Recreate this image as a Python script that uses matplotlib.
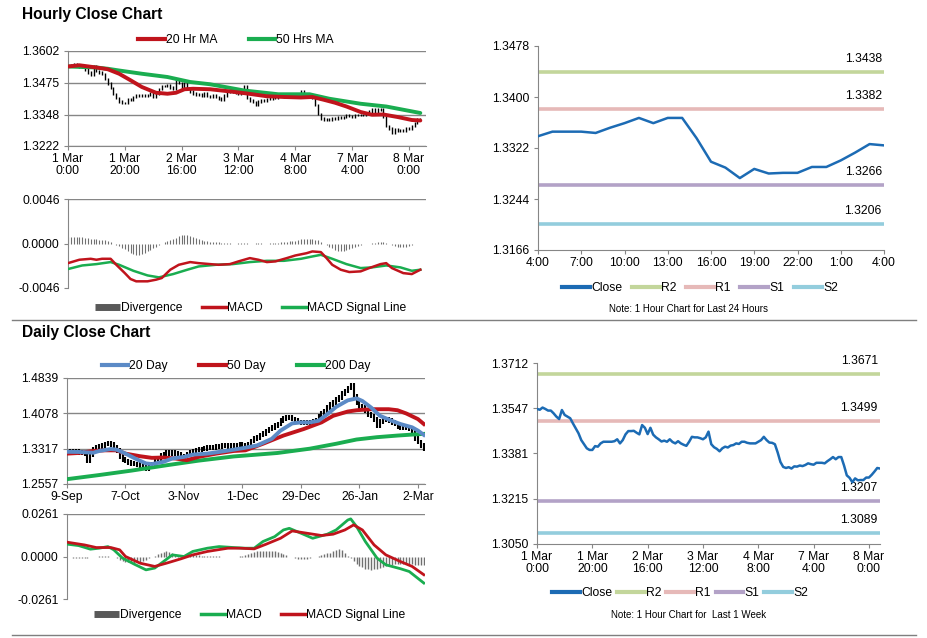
import numpy as np
import matplotlib
matplotlib.use('Agg')
import matplotlib.pyplot as plt
from matplotlib.lines import Line2D

plt.rcParams['font.family'] = ['Liberation Sans', 'DejaVu Sans']

# ---------------- hourly data (1 Mar 0:00 -> 8 Mar 4:00, trading hours) ----------------
hourly_close = [
    1.3544, 1.3541, 1.3549, 1.3544, 1.3538, 1.3538, 1.3528, 1.3516, 1.3507, 1.3540,
    1.3522, 1.3516, 1.3510, 1.3491, 1.3473, 1.3455, 1.3430, 1.3415, 1.3400, 1.3394,
    1.3394, 1.3408, 1.3406, 1.3418, 1.3424, 1.3424, 1.3424, 1.3424, 1.3426, 1.3433,
    1.3418, 1.3430, 1.3451, 1.3463, 1.3463, 1.3464, 1.3457, 1.3451, 1.3485, 1.3475,
    1.3452, 1.3475, 1.3450, 1.3440, 1.3433, 1.3425, 1.3428, 1.3424, 1.3433, 1.3423,
    1.3418, 1.3426, 1.3418, 1.3413, 1.3409, 1.3424, 1.3442, 1.3440, 1.3440, 1.3437,
    1.3433, 1.3440, 1.3461, 1.3415, 1.3404, 1.3398, 1.3389, 1.3400, 1.3406, 1.3403,
    1.3410, 1.3412, 1.3418, 1.3416, 1.3424, 1.3424, 1.3420, 1.3418, 1.3418, 1.3418,
    1.3424, 1.3430, 1.3442, 1.3430, 1.3421, 1.3420, 1.3415, 1.3385, 1.3350, 1.3332,
    1.3328, 1.3331, 1.3326, 1.3334, 1.3333, 1.3337, 1.3335, 1.3339, 1.3345, 1.3342,
    1.3340, 1.3347, 1.3347, 1.3347, 1.3345, 1.3353, 1.3360, 1.3368, 1.3360, 1.3368,
    1.3368, 1.3337, 1.3301, 1.3292, 1.3276, 1.3290, 1.3283, 1.3284, 1.3284, 1.3293,
    1.3293, 1.3303, 1.3315, 1.3328, 1.3326,
]
hourly_ticks = ['1 Mar\n0:00', '1 Mar\n20:00', '2 Mar\n16:00', '3 Mar\n12:00',
                '4 Mar\n8:00', '7 Mar\n4:00', '8 Mar\n0:00']

ma20_hr_idx = [0, 4, 10, 14, 18, 22, 26, 31, 35, 38, 41, 44, 50, 58, 63, 70, 76, 82,
               86, 90, 94, 98, 103, 107, 111, 116, 121, 124]
ma20_hr = [1.3540, 1.3545, 1.3536, 1.3529, 1.3511, 1.3485, 1.3458, 1.3435, 1.3431,
           1.3435, 1.3449, 1.3451, 1.3449, 1.3439, 1.3432, 1.3421, 1.3418, 1.3416,
           1.3418, 1.3407, 1.3395, 1.3380, 1.3358, 1.3347, 1.3348, 1.3338, 1.3326, 1.3324]
ma50_hr_idx = [0, 10, 14, 18, 26, 35, 43, 50, 62, 74, 85, 92, 103, 112, 124]
ma50_hr = [1.3540, 1.3536, 1.3531, 1.3524, 1.3511, 1.3498, 1.3478, 1.3469, 1.3444,
           1.3429, 1.3429, 1.3411, 1.3391, 1.3380, 1.3354]

macd_hr_idx = [0, 4, 8, 10, 12, 15, 17, 20, 22, 24, 28, 31, 33, 36, 39, 43, 46, 50, 53, 57,
               60, 64, 67, 70, 73, 77, 80, 84, 86, 89, 91, 93, 96, 99, 103, 106, 110, 112,
               114, 118, 121, 124]
macd_hr = [-0.00203, -0.00168, -0.00158, -0.00168, -0.00158, -0.00158, -0.00220, -0.00306,
           -0.00367, -0.00391, -0.00391, -0.00374, -0.00357, -0.00271, -0.00220, -0.00192,
           -0.00203, -0.00213, -0.00220, -0.00213, -0.00185, -0.00151, -0.00168, -0.00192,
           -0.00185, -0.00151, -0.00124, -0.00100, -0.00082, -0.00089, -0.00151, -0.00220,
           -0.00271, -0.00295, -0.00288, -0.00254, -0.00213, -0.00203, -0.00254, -0.00306,
           -0.00316, -0.00271]
signal_hr_idx = [0, 5, 10, 15, 18, 23, 28, 32, 37, 42, 46, 52, 58, 64, 70, 76, 82, 86, 89,
                 93, 98, 103, 107, 112, 117, 121, 124]
signal_hr = [-0.00264, -0.00227, -0.00213, -0.00192, -0.00220, -0.00282, -0.00330, -0.00350,
             -0.00316, -0.00271, -0.00237, -0.00220, -0.00213, -0.00192, -0.00179, -0.00179,
             -0.00158, -0.00134, -0.00117, -0.00158, -0.00213, -0.00254, -0.00247, -0.00227,
             -0.00247, -0.00282, -0.00271]
# divergence, in units of 1e-4
div_hr = [7, 7, 7, 7, 7, 7, 6, 6, 5, 5, 5, 4, 4, 4, 3, 2, 0, -2, -3, -5, -6, -8,
          -10, -11, -12, -12, -11, -10, -8, -7, -5, -4, -2, 0, 2, 3, 4, 5, 6,
          8, 9, 9, 9, 8, 7, 6, 5, 4, 3, 3, 2, 2, 2, 2,
          1, 1, 1, 1, 0, 0, 1, 1, 1, 1, 0, 0, 1, 1, 1, 0, 0, 1, 1, 1, 1, 2, 2, 2, 3, 3, 3,
          4, 5, 5, 5, 5, 5, 4, 4, 2, 0, -2, -4, -5, -7, -8, -8, -8, -7, -6, -5,
          -4, -3, -2, -1, 0, 0, 1, 1, 2, 2, 2, 1, 0, -2, -3, -4, -4, -4, -4, -3, -2,
          -1, 0, 0]

# last 24 hours (7 Mar 4:00 -> 8 Mar 4:00)
h24_ticks = ['4:00', '7:00', '10:00', '13:00', '16:00', '19:00', '22:00', '1:00', '4:00']
h24_levels = [1.3438, 1.3382, 1.3266, 1.3206]
week_levels = [1.3671, 1.3499, 1.3207, 1.3089]
level_names = ['R2', 'R1', 'S1', 'S2']

# ---------------- daily data (9 Sep -> Mar) ----------------
daily_close = [
    1.3250, 1.3265, 1.3250, 1.3270, 1.3240, 1.3225, 1.3200, 1.3060, 1.3190, 1.3300,
    1.3350, 1.3370, 1.3390, 1.3420, 1.3440, 1.3410, 1.3350, 1.3280, 1.3150, 1.3080,
    1.3050, 1.3020, 1.3000, 1.2990, 1.2970, 1.2950, 1.2910, 1.2890, 1.2930, 1.2990,
    1.3050, 1.3100, 1.3170, 1.3200, 1.3230, 1.3210, 1.3240, 1.3220, 1.3190, 1.3140,
    1.3160, 1.3190, 1.3240, 1.3270, 1.3290, 1.3300, 1.3310, 1.3320, 1.3340, 1.3350,
    1.3340, 1.3360, 1.3350, 1.3380, 1.3390, 1.3370, 1.3390, 1.3400, 1.3380, 1.3410,
    1.3400, 1.3400, 1.3410, 1.3480, 1.3530, 1.3565, 1.3610, 1.3650, 1.3700, 1.3740,
    1.3770, 1.3810, 1.3850, 1.3920, 1.3970, 1.3990, 1.3995, 1.3960, 1.3920, 1.3890,
    1.3880, 1.3885, 1.3875, 1.3885, 1.3900, 1.3920, 1.4020, 1.4080, 1.4130, 1.4200,
    1.4270, 1.4310, 1.4380, 1.4420, 1.4500, 1.4560, 1.4620, 1.4690, 1.4450, 1.4300,
    1.4230, 1.4200, 1.4130, 1.4060, 1.4020, 1.3950, 1.3820, 1.3900, 1.3940, 1.3950,
    1.3920, 1.3880, 1.3850, 1.3800, 1.3780, 1.3765, 1.3760, 1.3740, 1.3680, 1.3540,
    1.3460, 1.3380, 1.3310,
]
daily_ticks = ['9-Sep', '7-Oct', '3-Nov', '1-Dec', '29-Dec', '26-Jan', '2-Mar']

d20_idx = [0, 4, 9, 11, 15, 17, 20, 24, 27, 29, 33, 36, 40, 43, 48, 52, 57, 61, 65, 70,
           73, 77, 80, 83, 86, 89, 92, 96, 99, 101, 104, 107, 111, 114, 118, 120, 122]
d20 = [1.3250, 1.3247, 1.3230, 1.3268, 1.3310, 1.3296, 1.3211, 1.3084, 1.3000, 1.2986,
       1.3035, 1.3106, 1.3141, 1.3190, 1.3211, 1.3247, 1.3296, 1.3338, 1.3388, 1.3529,
       1.3706, 1.3862, 1.3883, 1.3883, 1.3919, 1.4060, 1.4216, 1.4358, 1.4400, 1.4344,
       1.4202, 1.4025, 1.3919, 1.3848, 1.3777, 1.3706, 1.3614]
d50_idx = [0, 4, 9, 13, 17, 20, 25, 29, 33, 37, 41, 45, 51, 57, 61, 67, 74, 81, 87, 91,
           96, 99, 104, 110, 113, 116, 120, 122]
d50 = [1.3211, 1.3225, 1.3268, 1.3282, 1.3282, 1.3211, 1.3155, 1.3120, 1.3127, 1.3106,
       1.3070, 1.3141, 1.3211, 1.3268, 1.3282, 1.3423, 1.3600, 1.3742, 1.3883, 1.4025,
       1.4117, 1.4145, 1.4167, 1.4167, 1.4145, 1.4075, 1.3954, 1.3848]
d200_idx = [0, 11, 22, 34, 45, 57, 61, 72, 83, 92, 99, 106, 113, 118, 122]
d200 = [1.2661, 1.2750, 1.2845, 1.2960, 1.3060, 1.3150, 1.3170, 1.3225, 1.3317, 1.3423,
        1.3515, 1.3565, 1.3600, 1.3621, 1.3636]

macd_d_idx = [0, 4, 8, 11, 14, 16, 19, 23, 27, 30, 33, 36, 40, 43, 48, 52, 57, 61, 64, 67,
              71, 74, 76, 80, 84, 89, 92, 96, 97, 99, 102, 106, 109, 114, 117, 122]
macd_d = [0.0076, 0.0067, 0.0045, 0.0051, 0.0061, 0.0041, -0.0010, -0.0047, -0.0082, -0.0071,
          -0.0031, 0.0010, 0.0000, 0.0031, 0.0051, 0.0061, 0.0055, 0.0051, 0.0051, 0.0092,
          0.0122, 0.0163, 0.0173, 0.0143, 0.0112, 0.0137, 0.0163, 0.0224, 0.0231, 0.0184,
          0.0092, -0.0010, -0.0051, -0.0075, -0.0092, -0.0163]
signal_d_idx = [0, 6, 10, 15, 18, 20, 25, 30, 34, 39, 43, 48, 55, 59, 64, 68, 73, 77, 82, 87,
                91, 95, 98, 101, 105, 109, 114, 118, 122]
signal_d = [0.0088, 0.0071, 0.0055, 0.0055, 0.0041, 0.0000, -0.0041, -0.0061, -0.0041, -0.0014,
            0.0010, 0.0031, 0.0051, 0.0051, 0.0047, 0.0075, 0.0112, 0.0157, 0.0143, 0.0129,
            0.0137, 0.0163, 0.0194, 0.0163, 0.0071, 0.0010, -0.0031, -0.0061, -0.0112]
# divergence, in units of 1e-3
div_d = [-0.3, -0.5, -0.8, -1.0, -1.0, -1.0, -1.0, -0.8, -0.5, -0.3,
         0, 0.3, 0.5, 0.5, 0.3, 0, -0.5, -1.2, -2.0, -2.8,
         -3.2, -3.6, -3.8, -3.8, -3.6, -3.2, -2.6, -2.0, -1.2, -0.4,
         0.6, 1.6, 2.4, 3.0, 3.2, 3.0, 2.4, 1.6, 1.0, 0.6,
         0.8, 1.0, 1.2, 1.2, 1.0, 0.8, 0.6, 0.4, 0.3, 0.2,
         0.2, 0.1, 0.1, 0, 0, 0, 0, 0, 0, 0.2,
         0.4, 0.8, 1.4, 2.2, 2.8, 3.2, 3.4, 3.6, 3.6, 3.6,
         3.6, 3.4, 3.0, 2.4, 1.6, 0.8, 0, -0.6, -1.0, -1.4,
         -1.6, -1.6, -1.4, -1.0, -0.6, -0.2, 0.2, 0.8, 1.4, 2.0,
         2.4, 3.4, 4.2, 4.6, 4.0, 2.4, 0.6, -1.2, -3.0, -4.4,
         -5.6, -6.6, -7.4, -7.8, -8.0, -7.8, -7.4, -6.8, -6.2, -5.8,
         -5.4, -5.0, -4.8, -4.6, -4.6, -4.6, -4.6, -4.6, -4.8, -5.0,
         -5.2, -5.4, -5.4]

# ---------------- styling ----------------
W, H = 928, 638
RED = '#c0141c'
GREEN = '#1aad50'
BLUE = '#1c6bb4'
LBLUE = '#5b8ac6'
GRAY = '#868686'
DIVC = '#707070'
LEVEL_COLORS = ['#c3d69b', '#e6b9b8', '#b3a2c7', '#93cddd']
FS = 8.7

fig = plt.figure(figsize=(W / 100, H / 100), dpi=100)


def box(l, t, r, b):
    return [l / W, 1 - b / H, (r - l) / W, (b - t) / H]


def base_style(ax, yticks, ylabels, grid_at=None, bottom=True):
    ax.set_facecolor('white')
    for s in ['top', 'right']:
        ax.spines[s].set_visible(False)
    ax.spines['left'].set_color(GRAY)
    ax.spines['bottom'].set_color(GRAY)
    ax.spines['bottom'].set_visible(bottom)
    ax.set_yticks(yticks)
    ax.set_yticklabels(ylabels, fontsize=FS)
    ax.tick_params(axis='y', direction='out', length=3, color=GRAY, pad=3)
    ax.tick_params(axis='x', direction='out', length=3, color=GRAY, pad=2, labelsize=FS)
    if grid_at is not None:
        for g in grid_at:
            ax.axhline(g, color=GRAY, lw=1, zorder=0)


def legend(handles, labels, cx, cy, colsp=1.5, hl=2.2):
    fig.legend(handles, labels, loc='center', bbox_to_anchor=(cx / W, 1 - cy / H),
               ncol=len(handles), frameon=False, fontsize=FS, handlelength=hl,
               handletextpad=0.1, columnspacing=colsp, borderaxespad=0, borderpad=0)


def ohlc_bars(ax, close, pad, lw):
    c = np.asarray(close)
    prev = np.r_[c[0], c[:-1]]
    x = np.arange(len(c))
    ax.vlines(x, np.minimum(prev, c) - pad, np.maximum(prev, c) + pad,
              color='black', lw=lw, zorder=2)


# ---------------- titles & separators ----------------
fig.text(22 / W, 1 - 14 / H, 'Hourly Close Chart', fontsize=11.2, fontweight='bold', va='center')
fig.text(22 / W, 1 - 333 / H, 'Daily Close Chart', fontsize=11.2, fontweight='bold', va='center')
for yy in (320, 635):
    fig.add_artist(Line2D([12 / W, 916 / W], [1 - yy / H, 1 - yy / H], color='#7f7f7f', lw=1))

# ---------------- panel 1: hourly bars + MAs ----------------
ax1 = fig.add_axes(box(68, 51, 426, 146))
yt1 = [1.3222, 1.3348, 1.3475, 1.3602]
base_style(ax1, yt1, ['%.4f' % v for v in yt1], grid_at=yt1)
ohlc_bars(ax1, hourly_close, 0.0005, 1.0)
ax1.plot(ma50_hr_idx, ma50_hr, color=GREEN, lw=2.8, zorder=3, solid_capstyle='round')
ax1.plot(ma20_hr_idx, ma20_hr, color=RED, lw=2.8, zorder=4, solid_capstyle='round')
ax1.set_xlim(0, 126)
ax1.set_ylim(1.3222, 1.3602)
ax1.set_xticks(range(0, 121, 20))
ax1.set_xticklabels(hourly_ticks, linespacing=1.0)
legend([Line2D([], [], color=RED, lw=3), Line2D([], [], color=GREEN, lw=3)],
       ['20 Hr MA', '50 Hrs MA'], 236, 40, colsp=2.6)

# ---------------- panel 2: hourly MACD ----------------
ax2 = fig.add_axes(box(68, 199, 426, 288))
yt2 = [-0.0046, 0.0, 0.0046]
base_style(ax2, yt2, ['-0.0046', '0.0000', '0.0046'], grid_at=[0.0046], bottom=False)
ax2.vlines(np.arange(len(div_hr)), 0, np.array(div_hr) * 1e-4, color=DIVC, lw=0.8, zorder=1)
ax2.plot(signal_hr_idx, signal_hr, color=GREEN, lw=1.8, zorder=3)
ax2.plot(macd_hr_idx, macd_hr, color=RED, lw=1.8, zorder=4)
ax2.set_xlim(0, 126)
ax2.set_ylim(-0.0046, 0.0046)
ax2.set_xticks([])
legend([Line2D([], [], color='#595959', lw=5, solid_capstyle='butt'),
        Line2D([], [], color=RED, lw=2.5), Line2D([], [], color=GREEN, lw=2.5)],
       ['Divergence', 'MACD', 'MACD Signal Line'], 251, 308, colsp=1.6, hl=2.0)

# ---------------- panel 3: last 24 hours ----------------
ax3 = fig.add_axes(box(538, 46, 884, 250))
yt3 = [1.3166, 1.3244, 1.3322, 1.3400, 1.3478]
base_style(ax3, yt3, ['%.4f' % v for v in yt3])
x24 = np.arange(25)
for lev, col in zip(h24_levels, LEVEL_COLORS):
    ax3.axhline(lev, color=col, lw=2.6, zorder=1)
    ax3.annotate('%.4f' % lev, (23.85, lev), xytext=(0, 5), textcoords='offset points',
                 ha='right', va='bottom', fontsize=FS)
ax3.plot(x24, hourly_close[-25:], color=BLUE, lw=1.8, zorder=3)
ax3.set_xlim(0, 24)
ax3.set_ylim(1.3166, 1.3478)
ax3.set_xticks(range(0, 25, 3))
ax3.set_xticklabels(h24_ticks)
lev_handles = [Line2D([], [], color=BLUE, lw=3)] + \
              [Line2D([], [], color=c, lw=3) for c in LEVEL_COLORS]
legend(lev_handles, ['Close'] + level_names, 700, 288, colsp=0.8, hl=2.3)
fig.text(689 / W, 1 - 309 / H, 'Note: 1 Hour Chart for Last 24 Hours', fontsize=7,
         ha='center', va='center')

# ---------------- panel 4: daily bars + MAs ----------------
ax4 = fig.add_axes(box(67, 378, 425, 484))
yt4 = [1.2557, 1.3317, 1.4078, 1.4839]
base_style(ax4, yt4, ['%.4f' % v for v in yt4], grid_at=yt4)
ohlc_bars(ax4, daily_close, 0.005, 1.5)
ax4.plot(d200_idx, d200, color=GREEN, lw=2.8, zorder=3)
ax4.plot(d50_idx, d50, color=RED, lw=2.8, zorder=4)
ax4.plot(d20_idx, d20, color=LBLUE, lw=2.8, zorder=5)
ax4.set_xlim(0, 122.4)
ax4.set_ylim(1.2557, 1.4839)
ax4.set_xticks(range(0, 121, 20))
ax4.set_xticklabels(daily_ticks)
legend([Line2D([], [], color=LBLUE, lw=3), Line2D([], [], color=RED, lw=3),
        Line2D([], [], color=GREEN, lw=3)],
       ['20 Day', '50 Day', '200 Day'], 236, 366, colsp=2.6)

# ---------------- panel 5: daily MACD ----------------
ax5 = fig.add_axes(box(67, 514, 425, 599))
yt5 = [-0.0261, 0.0, 0.0261]
base_style(ax5, yt5, ['-0.0261', '0.0000', '0.0261'], grid_at=[0.0261], bottom=False)
ax5.vlines(np.arange(len(div_d)), 0, np.array(div_d) * 1e-3, color=DIVC, lw=1.0, zorder=1)
ax5.plot(macd_d_idx, macd_d, color=GREEN, lw=2.0, zorder=3)
ax5.plot(signal_d_idx, signal_d, color=RED, lw=2.0, zorder=4)
ax5.set_xlim(0, 122.4)
ax5.set_ylim(-0.0261, 0.0261)
ax5.set_xticks([])
legend([Line2D([], [], color='#595959', lw=5, solid_capstyle='butt'),
        Line2D([], [], color=GREEN, lw=2.5), Line2D([], [], color=RED, lw=2.5)],
       ['Divergence', 'MACD', 'MACD Signal Line'], 250, 615, colsp=1.6, hl=2.0)

# ---------------- panel 6: last week hourly ----------------
ax6 = fig.add_axes(box(537, 363, 880, 544))
yt6 = [1.3050, 1.3215, 1.3381, 1.3547, 1.3712]
base_style(ax6, yt6, ['%.4f' % v for v in yt6])
xw = np.arange(len(hourly_close))
for lev, col in zip(week_levels, LEVEL_COLORS):
    ax6.axhline(lev, color=col, lw=2.6, zorder=1)
    ax6.annotate('%.4f' % lev, (123.2, lev), xytext=(0, 5), textcoords='offset points',
                 ha='right', va='bottom', fontsize=FS)
ax6.plot(xw, hourly_close, color=BLUE, lw=1.8, zorder=3)
ax6.set_xlim(0, 124)
ax6.set_ylim(1.3050, 1.3712)
ax6.set_xticks(range(0, 121, 20))
ax6.set_xticklabels(hourly_ticks, linespacing=1.0)
legend(lev_handles, ['Close'] + level_names, 680, 593, colsp=0.4, hl=2.3)
fig.text(689 / W, 1 - 615 / H, 'Note: 1 Hour Chart for  Last 1 Week', fontsize=7,
         ha='center', va='center')

fig.savefig('out.png', dpi=100, facecolor='white')
